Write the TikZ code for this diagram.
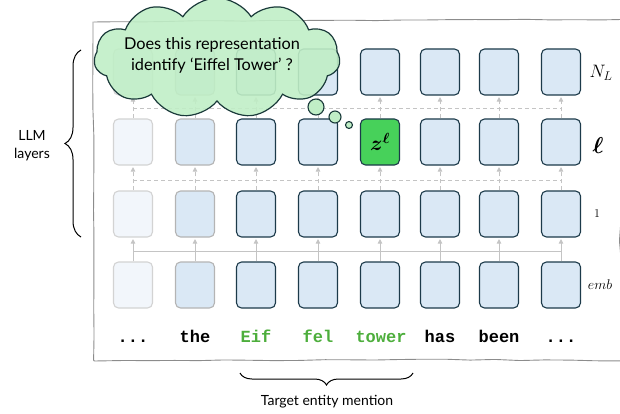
\RequirePackage{fix-cm}
\documentclass[tikz,border=0pt]{standalone}
\usepackage{amsmath,bm}
\usepackage{fontspec}
\newfontfamily\labelfont{Lato}
\newfontfamily\tokfont{Liberation Mono}
\usetikzlibrary{shapes.symbols,decorations.pathreplacing,decorations.pathmorphing,arrows.meta}
\definecolor{boxfill}{HTML}{DAE8F5}
\definecolor{boxline}{HTML}{1C3A4A}
\definecolor{fadefill}{HTML}{F2F6FB}
\definecolor{fadeline}{HTML}{D3D3D3}
\definecolor{grayline}{HTML}{B4B4B4}
\definecolor{cloudfill}{HTML}{C0EEC6}
\definecolor{cloudline}{HTML}{1A3A3A}
\definecolor{zfill}{HTML}{47D15A}
\definecolor{tokgreen}{HTML}{4DAE3C}
\definecolor{conn}{HTML}{C4C4C4}
\definecolor{framec}{HTML}{8C8C8C}
\tikzset{
  cell/.style={draw=boxline, fill=boxfill, rounded corners=5pt, minimum width=39pt, minimum height=46pt, line width=1.1pt, inner sep=0pt},
  cellfade/.style={cell, draw=fadeline, fill=fadefill},
  cellgray/.style={cell, draw=grayline},
  zcell/.style={cell, fill=zfill},
  dashconn/.style={draw=conn, dash pattern=on 4pt off 3pt, line width=0.9pt},
  solidconn/.style={draw=conn, line width=0.9pt},
  arr/.style={-{Triangle[length=4.5pt,width=4.5pt]}, conn},
  tok/.style={font=\tokfont\bfseries\fontsize{17}{17}\selectfont, inner sep=1pt, anchor=base},
  bubble/.style={circle, draw=cloudline, fill=cloudfill, line width=1.1pt, inner sep=0pt},
  sidelab/.style={inner sep=0pt},
  bracedec/.style={decorate, line width=1pt}
}
\begin{document}
\begin{tikzpicture}[x=1pt,y=-1pt]
\useasboundingbox (0,0) rectangle (620,414);
% frame
\pgfmathsetseed{7}
\draw[framec, line width=0.9pt, decorate, decoration={random steps, segment length=25pt, amplitude=0.5pt}, rounded corners=0.8pt]
  (93,22) -- (300,20.5) -- (622,19.5) -- (622,200) -- (619.5,240) -- (622,280) -- (621,360.5) -- (400,359.5) -- (94,361) -- cycle;
% boxes
\foreach \x [count=\i] in {133,195,256,318,380,440,499,561} {
  \ifnum\i=1 \def\st{cellfade}\else\ifnum\i=2 \def\st{cellgray}\else\def\st{cell}\fi\fi
  \node[\st] (n\i) at (\x,72) {};
  \ifnum\i=5
    \node[zcell, font=\fontsize{21}{21}\selectfont] (l\i) at (\x,142) {$\bm{z}^{\bm{\ell}}$};
  \else
    \node[\st] (l\i) at (\x,142) {};
  \fi
  \node[\st] (o\i) at (\x,214) {};
  \node[\st] (e\i) at (\x,285) {};
}
% horizontal connectors
\coordinate (ha) at (133,108);
\coordinate (hb) at (562,108);
\coordinate (hc) at (133,180);
\coordinate (hd) at (562,180);
\coordinate (he) at (133,251);
\coordinate (hf) at (562,251);
\draw[dashconn] (ha) -- (hb);
\draw[dashconn] (hc) -- (hd);
\draw[solidconn] (he) -- (hf);
% vertical connectors
\foreach \i in {1,...,8} {
  \draw[dashconn, arr] (l\i.north) -- ([yshift=-1.5pt]n\i.south);
  \draw[dashconn, arr] (o\i.north) -- ([yshift=-1.5pt]l\i.south);
  \draw[solidconn, arr] (e\i.north) -- ([yshift=-1.5pt]o\i.south);
}
% tokens
\node[tok] (t1) at (133,342) {...};
\node[tok] (t2) at (195,342) {the};
\node[tok, text=tokgreen] (t3) at (256,342) {Eif};
\node[tok, text=tokgreen] (t4) at (318,342) {fel};
\node[tok, text=tokgreen] (t5) at (381,342) {tower};
\node[tok] (t6) at (440,342) {has};
\node[tok] (t7) at (499,342) {been};
\node[tok] (t8) at (561,342) {...};
% side labels
\node[sidelab, font=\fontsize{18}{18}\selectfont] (labN) at (601,73) {$N_L$};
\node[sidelab, font=\fontsize{23}{23}\selectfont] (labl) at (598,146) {$\bm{\ell}$};
\node[sidelab, font=\fontsize{12}{12}\selectfont] (lab1) at (597,214) {1};
\node[sidelab, font=\fontsize{14}{14}\selectfont] (labe) at (600,285) {$emb$};
% cloud
\node[cloud, cloud puffs=11, cloud puff arc=115, draw=cloudline, fill=cloudfill, fill opacity=0.9, line width=1.2pt, minimum width=246pt, minimum height=120pt, inner sep=0pt] (cloud) at (217,58) {};
\node[align=center, inner sep=0pt, font=\labelfont\fontsize{16.3}{21}\selectfont] (cloudtxt) at (212,55) {Does this representation\\identify ‘Eiffel Tower’ ?};
\node[bubble, minimum size=16pt] (bub1) at (316,107) {};
\node[bubble, minimum size=12pt] (bub2) at (335,117) {};
\node[bubble, minimum size=7pt] (bub3) at (349,125) {};
% left brace
\coordinate (lb1) at (81,237);
\coordinate (lb2) at (81,50);
\draw[bracedec, decoration={brace, amplitude=16pt}] (lb1) -- (lb2);
\node[align=center, font=\labelfont\fontsize{14}{18}\selectfont] (llm) at (32,146) {LLM\\layers};
% bottom brace
\coordinate (bb1) at (413,373);
\coordinate (bb2) at (240,373);
\draw[bracedec, decoration={brace, amplitude=12pt}] (bb1) -- (bb2);
\node[font=\labelfont\fontsize{14}{14}\selectfont] (tem) at (327,402) {Target entity mention};
\end{tikzpicture}
\end{document}
